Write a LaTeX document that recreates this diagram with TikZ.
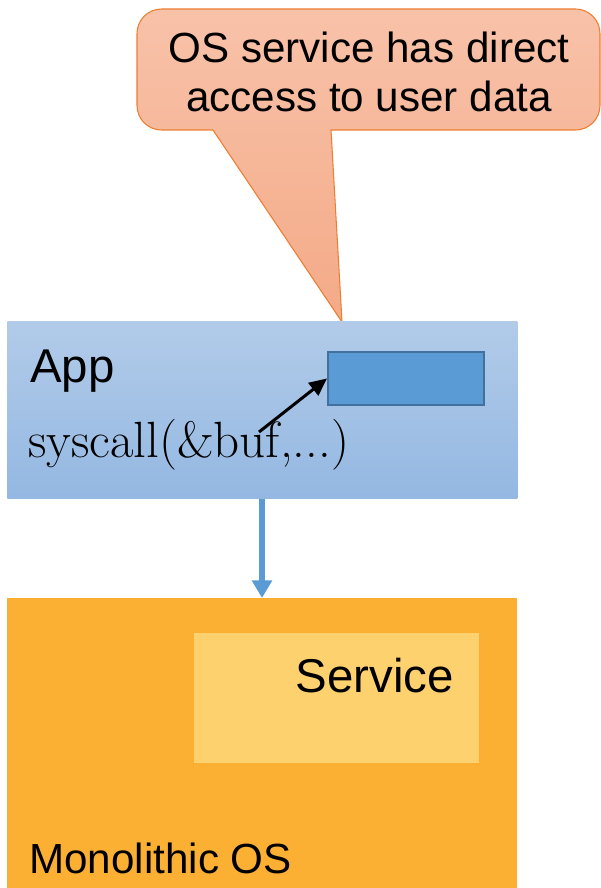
\documentclass[tikz,border=0pt]{standalone}
\usepackage{fontspec}
\newfontfamily\arialfont{Liberation Sans}
\usepackage{xcolor}
\definecolor{calloutTop}{HTML}{F8C2A9}
\definecolor{calloutBot}{HTML}{F4AA87}
\definecolor{calloutLine}{HTML}{ED7D31}
\definecolor{appTop}{HTML}{B2CBE9}
\definecolor{appBot}{HTML}{94B8E2}
\definecolor{bufFill}{HTML}{5B9BD5}
\definecolor{bufLine}{HTML}{41719C}
\definecolor{osFill}{HTML}{FBB034}
\definecolor{svcFill}{HTML}{FED16F}
\usepackage{tikz}
\usetikzlibrary{arrows.meta, positioning}

\begin{document}
\begin{tikzpicture}[
        x=0.02cm, y=-0.02cm,
        box/.style={rectangle, inner sep=0pt, anchor=north west},
        appbox/.style={box, top color=appTop, bottom color=appBot},
        bufbox/.style={box, fill=bufFill, draw=bufLine, line width=1.1pt},
        osbox/.style={box, fill=osFill},
        svcbox/.style={box, fill=svcFill},
        callout/.style={draw=calloutLine, line width=0.6pt, top color=calloutTop, bottom color=calloutBot},
        sanslabel/.style={font=\arialfont\fontsize{27}{32}\selectfont, inner sep=0pt},
        call/.style={-{Triangle[length=10pt, width=11pt]}, line width=3pt, draw=bufFill},
        pointer/.style={-{Triangle[length=10pt, width=9pt]}, line width=1.7pt, draw=black}
    ]
        \useasboundingbox (0,0) rectangle (601,888);

        % Speech bubble
        \draw[callout] (342,322) -- (213,130) -- (180,130) [rounded corners=14]
            -- (137,130) -- (137,9) -- (600,9) -- (600,130) -- (400,130) [sharp corners]
            -- (331,130) -- cycle;
        \node[font=\arialfont\fontsize{24}{27.5}\selectfont, align=center, inner sep=0pt] (note)
            at (369,72) {OS service has direct\\access to user data};

        % Application
        \node[appbox, minimum width=10.2cm, minimum height=3.54cm] (app) at (7,321) {};
        \node[bufbox, minimum width=3.12cm, minimum height=1.06cm] (buf) at (327,351) {};
        \node[sanslabel, anchor=base west] (applabel) at (30,382) {App};
        \node[font=\fontsize{29}{34}\selectfont, inner sep=0pt, anchor=base west] (syscall)
            at (28,457) {syscall(\&buf,...)};
        \coordinate (ref) at (259,432);
        \draw[pointer] (ref) -- (buf.west);

        % Kernel
        \node[osbox, minimum width=10.2cm, minimum height=5.8cm] (os) at (7,598) {};
        \node[svcbox, minimum width=5.7cm, minimum height=2.6cm] (svc) at (194,633) {};
        \node[sanslabel, anchor=base east] (svclabel) at (454,692) {Service};
        \node[sanslabel, font=\arialfont\fontsize{24}{28}\selectfont, anchor=base west] (oslabel)
            at (29,873) {Monolithic OS};

        % System call
        \draw[call] (app.south -| 262,0) -- (os.north -| 262,0);
    \end{tikzpicture}
\end{document}
